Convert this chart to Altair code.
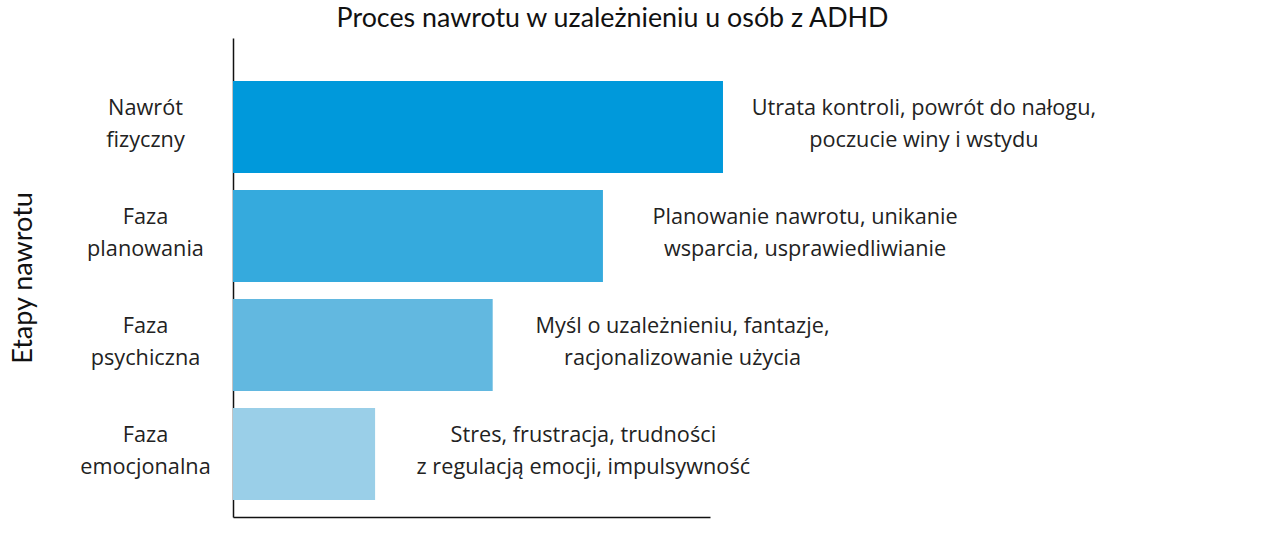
import altair as alt
import pandas as pd

# --- data ---
stages = ["Nawrót|fizyczny", "Faza|planowania", "Faza|psychiczna", "Faza|emocjonalna"]
values = [4.0, 3.02, 2.12, 1.16]
descriptions = [
    "Utrata kontroli, powrót do nałogu,\npoczucie winy i wstydu",
    "Planowanie nawrotu, unikanie\nwsparcia, usprawiedliwianie",
    "Myśl o uzależnieniu, fantazje,\nracjonalizowanie użycia",
    "Stres, frustracja, trudności\nz regulacją emocji, impulsywność",
]
label_x = [5.64, 4.67, 3.67, 2.86]
palette = ["#0099DB", "#35AADD", "#62B8E0", "#9ACFE8"]

df = pd.DataFrame({"stage": stages, "value": values, "desc": descriptions, "lx": label_x})

y_enc = alt.Y(
    "stage:N",
    sort=stages,
    scale=alt.Scale(paddingInner=0.156, paddingOuter=0.275, align=0.717),
    axis=alt.Axis(
        title="Etapy nawrotu",
        titleFont="Lato",
        titleFontSize=27,
        titleFontWeight="normal",
        titleColor="#111",
        titleX=-196,
        labelExpr="split(datum.label, '|')",
        labelAlign="center",
        labelPadding=88,
        labelOffset=-19,
        labelFont="Open Sans",
        labelFontSize=21.7,
        labelColor="#222",
        labelLineHeight=32,
        ticks=False,
        domainColor="#111",
        domainWidth=1.5,
        grid=False,
    ),
)

bars = alt.Chart(df).mark_bar().encode(
    x=alt.X(
        "value:Q",
        scale=alt.Scale(domain=[0, 3.894], nice=False),
        axis=alt.Axis(title=None, labels=False, ticks=False, grid=False,
                      domainColor="#111", domainWidth=1.5),
    ),
    y=y_enc,
    color=alt.Color("stage:N", scale=alt.Scale(domain=stages, range=palette), legend=None),
)

texts = alt.Chart(df).mark_text(
    font="Open Sans", fontSize=21.7, color="#222", align="center",
    baseline="middle", lineBreak="\n", lineHeight=32, dy=-19,
).encode(
    x="lx:Q",
    y=alt.Y("stage:N", sort=stages),
    text="desc:N",
)

chart = (bars + texts).properties(
    width=477,
    height=479,
    autosize=alt.AutoSizeParams(type="none"),
    padding={"left": 233, "top": 38, "right": 570, "bottom": 32},
    title=alt.TitleParams(
        "Proces nawrotu w uzależnieniu u osób z ADHD",
        font="Lato", fontSize=26.8, fontWeight="normal", color="#111",
        dx=141, offset=5,
    ),
).configure_view(stroke=None)

chart.save("out.html", embed_options={"renderer": "svg", "actions": False})
